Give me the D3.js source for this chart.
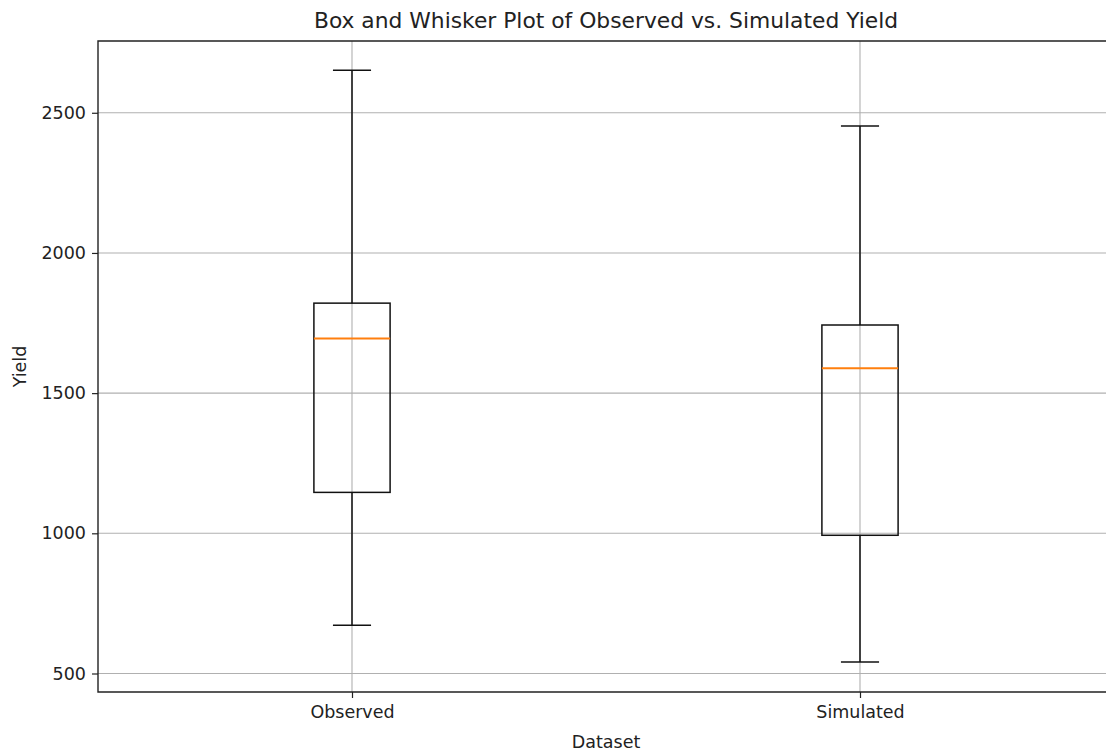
<!DOCTYPE html>
<html>
<head>
<meta charset="utf-8">
<script src="https://cdn.jsdelivr.net/npm/d3@7"></script>
<style>
  html, body { margin: 0; padding: 0; background: #fff; }
  svg text { font-family: 'DejaVu Sans', sans-serif; fill: #222; }
</style>
</head>
<body>
<div id="chart"></div>
<script>
// values
const categories = ['Observed', 'Simulated']
const whiskerLow = [672, 541]
const q1 = [1146, 993]
const median = [1695, 1589]
const q3 = [1821, 1743]
const whiskerHigh = [2652, 2453]
const yTicks = [500, 1000, 1500, 2000, 2500]

const width = 1106
const height = 751
const margin = { top: 41, left: 98, bottom: 692 }
const plotRight = 1114 // the axes run a little past the picture edge

const svg = d3.select('#chart')
  .append('svg')
  .attr('width', width)
  .attr('height', height)

const x = d3.scaleLinear().domain([0.5, 2.5]).range([margin.left, plotRight])
const y = d3.scaleLinear().domain([434, 2756]).range([margin.bottom, margin.top])
const boxW = x(1.15) - x(1)

// grid
const grid = svg.append('g').attr('stroke', '#b0b0b0').attr('stroke-width', 1.1)
grid.selectAll('line.gy')
  .data(yTicks)
  .join('line')
  .attr('x1', margin.left).attr('x2', plotRight)
  .attr('y1', d => y(d)).attr('y2', d => y(d))
grid.selectAll('line.gx')
  .data(categories)
  .join('line')
  .attr('x1', (d, i) => x(i + 1)).attr('x2', (d, i) => x(i + 1))
  .attr('y1', margin.top).attr('y2', margin.bottom)

// boxes
const boxes = svg.append('g')
  .selectAll('g')
  .data(categories)
  .join('g')
  .attr('stroke', '#111')
  .attr('stroke-width', 1.5)
  .attr('fill', 'none')

boxes.append('line')
  .attr('x1', (d, i) => x(i + 1)).attr('x2', (d, i) => x(i + 1))
  .attr('y1', (d, i) => y(q3[i])).attr('y2', (d, i) => y(whiskerHigh[i]))
boxes.append('line')
  .attr('x1', (d, i) => x(i + 1)).attr('x2', (d, i) => x(i + 1))
  .attr('y1', (d, i) => y(q1[i])).attr('y2', (d, i) => y(whiskerLow[i]))
boxes.append('line')
  .attr('x1', (d, i) => x(i + 1) - boxW / 4).attr('x2', (d, i) => x(i + 1) + boxW / 4)
  .attr('y1', (d, i) => y(whiskerHigh[i])).attr('y2', (d, i) => y(whiskerHigh[i]))
boxes.append('line')
  .attr('x1', (d, i) => x(i + 1) - boxW / 4).attr('x2', (d, i) => x(i + 1) + boxW / 4)
  .attr('y1', (d, i) => y(whiskerLow[i])).attr('y2', (d, i) => y(whiskerLow[i]))
boxes.append('rect')
  .attr('x', (d, i) => x(i + 1) - boxW / 2)
  .attr('width', boxW)
  .attr('y', (d, i) => y(q3[i]))
  .attr('height', (d, i) => y(q1[i]) - y(q3[i]))
boxes.append('line')
  .attr('stroke', '#ff7f0e')
  .attr('stroke-width', 2)
  .attr('x1', (d, i) => x(i + 1) - boxW / 2).attr('x2', (d, i) => x(i + 1) + boxW / 2)
  .attr('y1', (d, i) => y(median[i])).attr('y2', (d, i) => y(median[i]))

// axes
const yAxis = svg.append('g')
  .attr('transform', `translate(${margin.left},0)`)
  .call(d3.axisLeft(y).tickValues(yTicks).tickFormat(d3.format('d')).tickSize(6).tickPadding(6))
const xAxis = svg.append('g')
  .attr('transform', `translate(0,${margin.bottom})`)
  .call(d3.axisBottom(x).tickValues([1, 2]).tickFormat(d => categories[d - 1]).tickSize(6).tickPadding(8))

for (const ax of [yAxis, xAxis]) {
  ax.select('.domain').remove()
  ax.selectAll('.tick line').attr('stroke', '#222').attr('stroke-width', 1.2)
  ax.selectAll('.tick text').attr('font-size', 17.5).attr('fill', '#222')
}

// spines (top, left, bottom; the right one is cut off)
svg.append('path')
  .attr('d', `M${plotRight},${margin.top}H${margin.left}V${margin.bottom}H${plotRight}`)
  .attr('fill', 'none')
  .attr('stroke', '#222')
  .attr('stroke-width', 1.4)

svg.append('text')
  .attr('x', (margin.left + plotRight) / 2)
  .attr('y', 28)
  .attr('text-anchor', 'middle')
  .attr('font-size', 21.8)
  .text('Box and Whisker Plot of Observed vs. Simulated Yield')

svg.append('text')
  .attr('x', (margin.left + plotRight) / 2)
  .attr('y', 748)
  .attr('text-anchor', 'middle')
  .attr('font-size', 17.5)
  .text('Dataset')

svg.append('text')
  .attr('transform', `translate(26,${(margin.top + margin.bottom) / 2}) rotate(-90)`)
  .attr('text-anchor', 'middle')
  .attr('font-size', 17.5)
  .text('Yield')
</script>
</body>
</html>
